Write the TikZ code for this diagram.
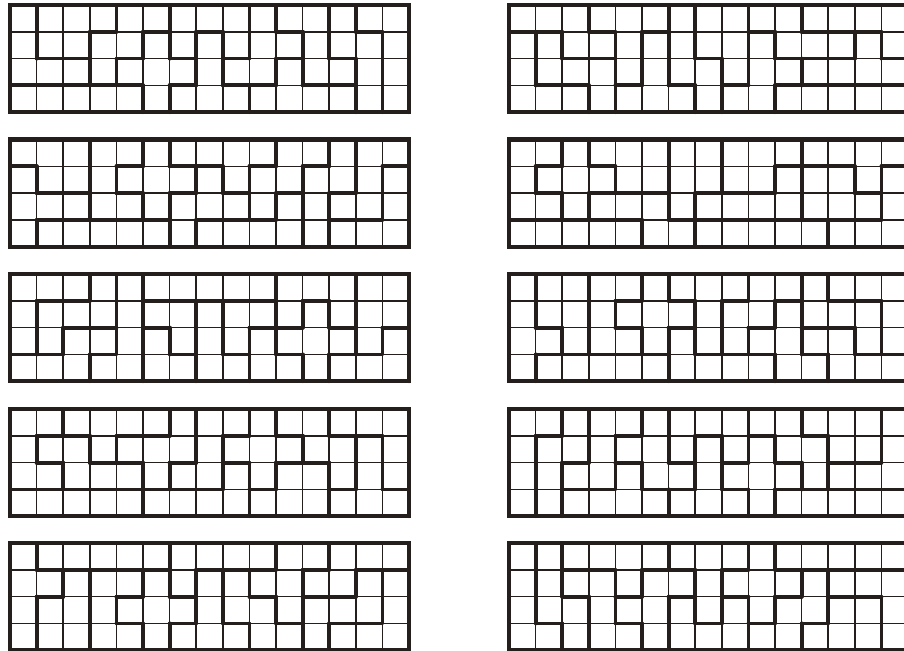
\documentclass[tikz,border=0pt]{standalone}

\definecolor{ink}{RGB}{36,31,28}
\tikzset{
  gridline/.style={ink, line width=1.5pt},
  seam/.style={ink, line width=3.8pt, line cap=round},
  rimline/.style={ink, line width=4.2pt},
}

% one row of a tiling: #1 row, #2 piece letters
\newcommand\tilerow[2]{%
  \foreach \p [count=\c from 0] in {#2}{%
    \expandafter\xdef\csname pc-#1-\c\endcsname{\p}}}

% 15x4 board, top left corner at (#1pt,-#2pt), rows #3..#6
\newcommand\board[6]{%
  \tilerow{0}{#3}\tilerow{1}{#4}\tilerow{2}{#5}\tilerow{3}{#6}%
  \begin{scope}[shift={(#1pt,-#2pt)}, x=26.6pt, y=-26.8pt]
    \foreach \k in {1,...,14} \draw[gridline] (\k,0) -- (\k,4);
    \foreach \k in {1,2,3} \draw[gridline] (0,\k) -- (15,\k);
    \foreach \r in {0,...,3}{
      \foreach \c in {0,...,14}{
        \pgfmathtruncatemacro\cc{\c+1}
        \pgfmathtruncatemacro\rr{\r+1}
        \edef\here{\csname pc-\r-\c\endcsname}
        \edef\east{\csname pc-\r-\cc\endcsname}
        \edef\south{\csname pc-\rr-\c\endcsname}
        \ifx\here\east\else\draw[seam] (\cc,\r) -- (\cc,\rr);\fi
        \ifx\here\south\else\draw[seam] (\c,\rr) -- (\cc,\rr);\fi
      }
    }
    \draw[rimline] (0,0) rectangle (15,4);
  \end{scope}}

\begin{document}
\begin{tikzpicture}
  \fill[white] (0,0) rectangle (904pt,-650pt);
  \useasboundingbox (0,0) rectangle (904pt,-650pt);
  \clip (0,0) rectangle (904pt,-650pt);

  % left column
  \board{10}{5}
    {V,P,P,P,W,W,U,U,U,F,Z,Z,N,L,L}
    {V,P,P,W,W,X,U,T,U,F,F,Z,N,N,L}
    {V,V,V,W,X,X,X,T,F,F,Y,Z,Z,N,L}
    {I,I,I,I,I,X,T,T,T,Y,Y,Y,Y,N,L}
  \board{10}{139.5}
    {P,P,P,U,U,X,Y,Y,Y,Y,W,W,N,Z,Z}
    {T,P,P,U,X,X,X,F,Y,W,W,N,N,Z,V}
    {T,T,T,U,U,X,F,F,F,W,L,N,Z,Z,V}
    {T,I,I,I,I,I,F,L,L,L,L,N,V,V,V}
  \board{10}{274}
    {V,V,V,Z,L,I,I,I,I,I,U,U,U,P,P}
    {V,Z,Z,Z,L,A,A,B,C,C,U,X,U,P,P}
    {V,Z,N,N,L,D,A,B,C,E,X,X,X,P,G}
    {N,N,N,L,L,D,D,B,B,E,E,X,G,G,G}
  \board{10}{409}
    {U,U,Y,Y,Y,Y,F,Z,Z,X,W,W,V,V,V}
    {U,N,N,Y,F,F,F,Z,X,X,X,W,W,T,V}
    {U,U,N,N,N,F,Z,Z,L,X,P,P,W,T,V}
    {I,I,I,I,I,L,L,L,L,P,P,P,T,T,T}
  \board{10}{543}
    {Y,I,I,I,I,I,L,L,L,L,F,F,N,N,N}
    {Y,Y,P,U,U,X,L,T,W,F,F,N,N,Z,V}
    {Y,P,P,U,X,X,X,T,W,W,F,Z,Z,Z,V}
    {Y,P,P,U,U,X,T,T,T,W,W,Z,V,V,V}

  % right column
  \board{509}{5}
    {N,N,N,T,T,T,A,D,D,E,E,L,L,L,L}
    {V,Z,N,N,T,S,A,D,D,G,E,E,E,H,L}
    {V,Z,Z,Z,T,S,A,A,D,G,G,H,H,H,H}
    {V,V,V,Z,S,S,S,A,G,G,I,I,I,I,I}
  \board{509}{139.5}
    {U,U,X,P,P,P,Q,Q,R,R,R,Y,Y,Y,Y}
    {U,X,X,X,P,P,Q,Q,R,R,S,G,G,Y,V}
    {U,U,X,N,N,N,Q,S,S,S,S,G,G,G,V}
    {I,I,I,I,I,N,N,J,J,J,J,J,V,V,V}
  \board{509}{274}
    {Y,P,P,U,U,X,T,T,T,W,W,Z,V,V,V}
    {Y,P,P,U,X,X,X,T,W,W,F,Z,Z,Z,V}
    {Y,Y,P,U,U,X,L,T,W,F,F,N,N,Z,V}
    {Y,I,I,I,I,I,L,L,L,L,F,F,N,N,N}
  \board{509}{409}
    {L,L,N,Z,Z,F,U,U,U,W,W,P,P,P,V}
    {L,N,N,Z,F,F,U,T,U,X,W,W,P,P,V}
    {L,N,Z,Z,Y,F,F,T,X,X,X,W,V,V,V}
    {L,N,Y,Y,Y,Y,T,T,T,X,I,I,I,I,I}
  \board{509}{543}
    {L,N,Y,Y,Y,Y,T,T,T,X,I,I,I,I,I}
    {L,N,Z,Z,Y,F,F,T,X,X,X,W,V,V,V}
    {L,N,N,Z,F,F,U,T,U,X,W,W,P,P,V}
    {L,L,N,Z,Z,F,U,U,U,W,W,P,P,P,V}
\end{tikzpicture}
\end{document}
